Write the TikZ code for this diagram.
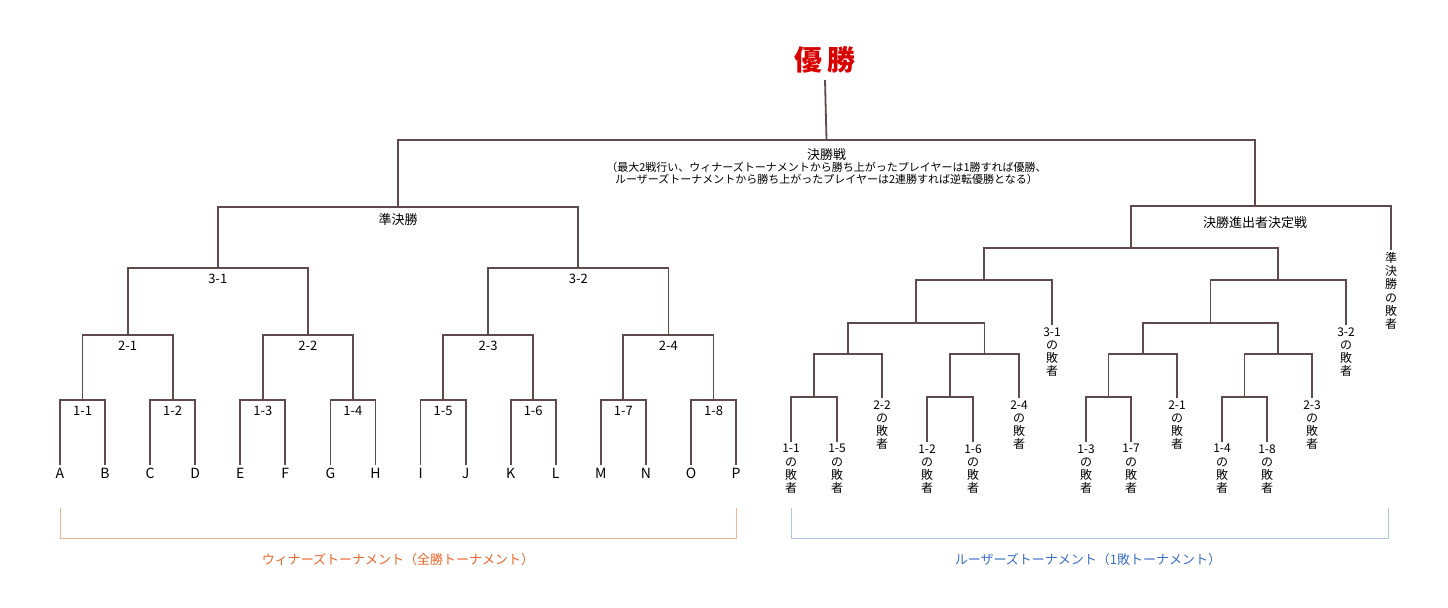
\documentclass[tikz,border=0pt]{standalone}
\usepackage{fontspec}
\setmainfont{Noto Sans CJK JP}
\usetikzlibrary{calc,positioning}

\definecolor{linecol}{RGB}{95,75,75}
\definecolor{wincol}{RGB}{235,100,40}
\definecolor{losecol}{RGB}{60,110,200}

\tikzset{
  bline/.style={draw=linecol,line width=0.9pt},
  blabel/.style={font=\fontsize{6.5}{7}\selectfont,inner sep=1pt},
  leaf/.style={font=\fontsize{7}{8}\selectfont,inner sep=1pt},
  loser/.style={font=\fontsize{6}{6.6}\selectfont,align=center,anchor=north,inner sep=1pt},
}

% one match: two entrants joined by a bar at height #4
\newcommand\bout[5]{%
  \coordinate (#3) at ($(#1 |- 0,#4)!0.5!(#2 |- 0,#4)$);
  \draw[bline] (#1) |- (#3) -| (#2);
  \node[blabel,below=2pt of #3] (#3l) {#5};
}

\begin{document}
\begin{tikzpicture}[x=0.5pt,y=-0.5pt]
\useasboundingbox (0,0) rectangle (1448,607);

% winners bracket
\foreach \l [count=\i from 0] in {A,B,C,D,E,F,G,H,I,J,K,L,M,N,O,P}
  \node[leaf] (w\l) at ({60+\i*45.07},473) {\l};

\bout{wA.north}{wB.north}{m11}{400}{1-1}
\bout{wC.north}{wD.north}{m12}{400}{1-2}
\bout{wE.north}{wF.north}{m13}{400}{1-3}
\bout{wG.north}{wH.north}{m14}{400}{1-4}
\bout{wI.north}{wJ.north}{m15}{400}{1-5}
\bout{wK.north}{wL.north}{m16}{400}{1-6}
\bout{wM.north}{wN.north}{m17}{400}{1-7}
\bout{wO.north}{wP.north}{m18}{400}{1-8}
\bout{m11}{m12}{m21}{335}{2-1}
\bout{m13}{m14}{m22}{335}{2-2}
\bout{m15}{m16}{m23}{335}{2-3}
\bout{m17}{m18}{m24}{335}{2-4}
\bout{m21}{m22}{m31}{268}{3-1}
\bout{m23}{m24}{m32}{268}{3-2}
\bout{m31}{m32}{semi}{207}{準決勝}

% losers bracket
\node[loser] (l11) at (791,442) {1-1\\の\\敗\\者};
\node[loser] (l15) at (837,442) {1-5\\の\\敗\\者};
\node[loser] (l22) at (882,398) {2-2\\の\\敗\\者};
\node[loser] (l12) at (927,442) {1-2\\の\\敗\\者};
\node[loser] (l16) at (973,442) {1-6\\の\\敗\\者};
\node[loser] (l24) at (1019,398) {2-4\\の\\敗\\者};
\node[loser] (l31) at (1052,325) {3-1\\の\\敗\\者};
\node[loser] (l13) at (1086,442) {1-3\\の\\敗\\者};
\node[loser] (l17) at (1131,442) {1-7\\の\\敗\\者};
\node[loser] (l21) at (1177,398) {2-1\\の\\敗\\者};
\node[loser] (l14) at (1222,442) {1-4\\の\\敗\\者};
\node[loser] (l18) at (1267,442) {1-8\\の\\敗\\者};
\node[loser] (l23) at (1312,398) {2-3\\の\\敗\\者};
\node[loser] (l32) at (1346,325) {3-2\\の\\敗\\者};
\node[loser] (lsf) at (1391,250) {準\\決\\勝\\の\\敗\\者};

\bout{l11.north}{l15.north}{r1}{397}{}
\bout{l12.north}{l16.north}{r2}{397}{}
\bout{l13.north}{l17.north}{r3}{397}{}
\bout{l14.north}{l18.north}{r4}{397}{}
\bout{r1}{l22.north}{s1}{354}{}
\bout{r2}{l24.north}{s2}{354}{}
\bout{r3}{l21.north}{s3}{354}{}
\bout{r4}{l23.north}{s4}{354}{}
\bout{s1}{s2}{t1}{323}{}
\bout{s3}{s4}{t2}{323}{}
\bout{t1}{l31.north}{u1}{280}{}
\bout{t2}{l32.north}{u2}{280}{}
\bout{u1}{u2}{v1}{248}{}
\draw[bline] (v1) |- (1255,206) coordinate (qf) -| (lsf.north);
\node[blabel,below=4pt of qf] (qfl) {決勝進出者決定戦};

% final
\coordinate (fin) at ($(semi |- 0,140)!0.5!(qf |- 0,140)$);
\draw[bline] (semi) |- (fin) -| (qf);
\node[blabel,below=3pt of fin,align=center] (finl)
  {決勝戦\\[-1pt]{\fontsize{5.5}{7}\selectfont（最大2戦行い、ウィナーズトーナメントから勝ち上がったプレイヤーは1勝すれば優勝、}\\[-1pt]
   {\fontsize{5.5}{7}\selectfont ルーザーズトーナメントから勝ち上がったプレイヤーは2連勝すれば逆転優勝となる）}};
\node[font=\fontsize{14}{14}\selectfont\bfseries,text=red!85!black] (champ) at (825,60) {優\,勝};
\draw[bline] (fin) -- (825,80) coordinate (champb);

% bracket captions
\draw[wincol!50,line width=0.5pt] (60,508) -- (60,538) -- (736,538) -- (736,508);
\node[blabel,text=wincol] (wcap) at (398,560) {ウィナーズトーナメント（全勝トーナメント）};
\draw[losecol!40,line width=0.5pt] (791,508) -- (791,538) -- (1388,538) -- (1388,508);
\node[blabel,text=losecol] (lcap) at (1088,560) {ルーザーズトーナメント（1敗トーナメント）};
\end{tikzpicture}
\end{document}
